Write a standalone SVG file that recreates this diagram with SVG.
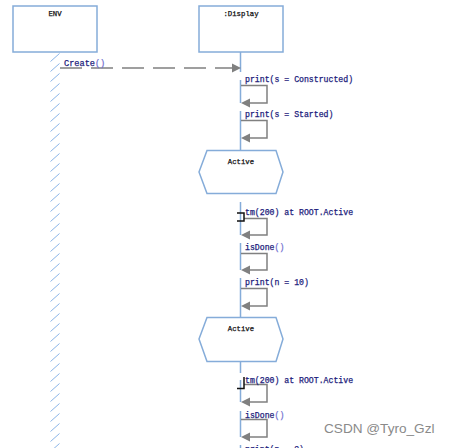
<svg xmlns="http://www.w3.org/2000/svg" width="450" height="448" viewBox="0 0 450 448">
<style>
.box{fill:#fff;stroke:#85acd9;stroke-width:1.5}
.life{stroke:#85acd9;stroke-width:1.5;fill:none}
.msg{stroke:#808080;stroke-width:1.5;fill:none}
.head{fill:#808080}
.lbl{font-family:"Liberation Mono","DejaVu Sans Mono",monospace;font-size:8.2px;fill:#1c1c7c;font-weight:normal;stroke:#1c1c7c;stroke-width:0.25}
.par{fill:#7070d0;stroke:#7070d0}
.ttl{font-family:"Liberation Mono","DejaVu Sans Mono",monospace;font-size:7.3px;fill:#111;font-weight:normal;stroke:#111;stroke-width:0.25;text-anchor:middle}
.tmr{stroke:#111;stroke-width:1.5;fill:none}
.wm{font-family:"Liberation Sans","Noto Sans",sans-serif;font-size:13.6px;fill:#8a8a8a}
</style>
<defs>
<pattern id="hatch" patternUnits="userSpaceOnUse" x="50" y="53" width="12" height="10">
<line x1="0.5" y1="8.5" x2="9.5" y2="0.5" stroke="#8ab4e6" stroke-width="1"/>
</pattern>
</defs>
<rect width="450" height="448" fill="#fff"/>

<g id="env">
<rect class="box" x="13" y="6" width="84" height="46"/>
<text class="ttl" x="55" y="16">ENV</text>
<rect x="50" y="53" width="11" height="395" fill="url(#hatch)"/>
</g>

<g id="display">
<rect class="box" x="199" y="6" width="84" height="46"/>
<text class="ttl" x="241" y="16">:Display</text>
</g>

<g id="lifeline">
<path class="life" d="M240.5,52V72M240.5,80V103M240.5,111V150M240.5,202V235M240.5,243V270M240.5,278V317M240.5,362V373M240.5,380V402M240.5,411V437M240.5,445V448"/>
</g>

<g id="active1">
<polygon class="box" points="207,150.5 276,150.5 283,172 276,193.5 207,193.5 199,172"/>
<text class="ttl" x="241" y="164">Active</text>
</g>

<g id="active2">
<polygon class="box" points="207,317.5 276,317.5 283,339 276,361.5 207,361.5 199,339"/>
<text class="ttl" x="241" y="331">Active</text>
</g>

<g id="connectors">
<line class="msg" x1="60" y1="68" x2="233" y2="68" stroke-dasharray="22,9"/>
<polygon class="head" points="241,68 232,63.5 232,72.5"/>

<path class="msg" d="M241,85.5H267V103H249"/>
<polygon class="head" points="241,103 250,98.5 250,107.5"/>

<path class="msg" d="M241,120.5H267V138H249"/>
<polygon class="head" points="241,138 250,133.5 250,142.5"/>

<path class="msg" d="M244,218.5H267V235H249"/>
<polygon class="head" points="241,235 250,230.5 250,239.5"/>

<path class="msg" d="M241,253.5H267V270H249"/>
<polygon class="head" points="241,270 250,265.5 250,274.5"/>

<path class="msg" d="M241,288.5H267V306H249"/>
<polygon class="head" points="241,306 250,301.5 250,310.5"/>

<path class="msg" d="M244,384.5H267V402H249"/>
<polygon class="head" points="241,402 250,397.5 250,406.5"/>

<path class="msg" d="M241,419.5H267V437H249"/>
<polygon class="head" points="241,437 250,432.5 250,441.5"/>

<path class="tmr" d="M237,213H244V221H237"/>
<path class="tmr" d="M244,377V388.5H237"/>
</g>

<g id="labels">
<text class="lbl" x="64" y="66" style="font-size:8.6px">Create<tspan class="par">()</tspan></text>
<text class="lbl" x="245" y="82">print(s = Constructed)</text>
<text class="lbl" x="245" y="117">print(s = Started)</text>
<text class="lbl" x="245" y="215">tm(200) at ROOT.Active</text>
<text class="lbl" x="245" y="250">isDone<tspan class="par">()</tspan></text>
<text class="lbl" x="245" y="285">print(n = 10)</text>
<text class="lbl" x="245" y="383">tm(200) at ROOT.Active</text>
<text class="lbl" x="245" y="418">isDone<tspan class="par">()</tspan></text>
<text class="lbl" x="245" y="452">print(n = 9)</text>
</g>

<text class="wm" x="324" y="433">CSDN @Tyro_Gzl</text>
</svg>
